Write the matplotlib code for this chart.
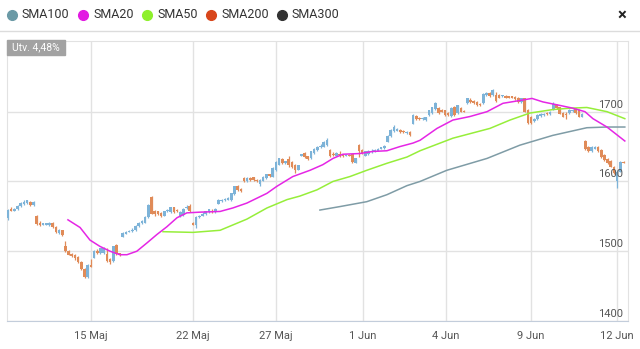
import matplotlib.pyplot as plt
from matplotlib.lines import Line2D
from matplotlib.patches import Rectangle
from matplotlib import transforms

plt.rcParams['font.family'] = ['Roboto', 'DejaVu Sans']

# hourly candles, one entry per bar
opens = [1547, 1561, 1558, 1560, 1565, 1568, 1569, 1571, 1566,
         1551, 1541, 1538, 1538, 1537, 1541, 1535, 1526, 1530,
         1508, 1501, 1496, 1495, 1492, 1485, 1475, 1463, 1480,
         1491, 1501, 1497, 1497, 1496, 1489, 1486, 1509, 1497,
         1521, 1525, 1528, 1529, 1530, 1536, 1540, 1541, 1549, 1577, 1557, 1557,
         1555, 1551, 1557, 1556, 1563, 1559, 1550, 1552, 1562, 1565,
         1541, 1538, 1549, 1551, 1553, 1556, 1558, 1556,
         1568, 1572, 1573, 1574, 1573, 1582, 1593, 1589,
         1605, 1600, 1605, 1606, 1602, 1597, 1601, 1605, 1610,
         1607, 1616, 1624, 1632, 1626, 1632, 1628, 1624, 1617,
         1637, 1641, 1636, 1633, 1641, 1645, 1649, 1650, 1652,
         1645, 1640, 1637, 1640, 1639, 1637, 1638, 1639, 1627,
         1652, 1645, 1637, 1639, 1642, 1643, 1644, 1647, 1648,
         1657, 1665, 1672, 1673, 1674, 1672, 1669, 1671,
         1683, 1694, 1690, 1689, 1688,
         1695, 1698, 1704, 1705, 1703, 1702, 1698, 1694, 1707, 1698, 1705, 1701,
         1712, 1717, 1716, 1714, 1711, 1712, 1724, 1727, 1724, 1724,
         1724, 1722, 1723, 1722, 1722, 1721, 1720, 1714, 1719,
         1703, 1693, 1686, 1689, 1694, 1695, 1698, 1696, 1703, 1710, 1706,
         1698, 1697, 1698, 1701, 1704, 1703, 1693,
         1658, 1650, 1643, 1647, 1650, 1645, 1638, 1632, 1630, 1621, 1600, 1614, 1628]
closes = [1559, 1558, 1560, 1565, 1569, 1570, 1573, 1566, 1571,
          1539, 1538, 1540, 1540, 1541, 1535, 1527, 1531, 1523,
          1500, 1495, 1493, 1490, 1484, 1474, 1463, 1480, 1478,
          1501, 1497, 1504, 1505, 1486, 1484, 1507, 1496, 1494,
          1526, 1528, 1529, 1531, 1536, 1541, 1543, 1549, 1566, 1554, 1553, 1553,
          1551, 1557, 1559, 1563, 1556, 1557, 1556, 1561, 1564, 1557,
          1538, 1549, 1551, 1554, 1557, 1560, 1556, 1560,
          1573, 1573, 1574, 1576, 1583, 1593, 1588, 1586,
          1600, 1605, 1602, 1602, 1600, 1602, 1607, 1610, 1608,
          1619, 1628, 1633, 1626, 1629, 1624, 1620, 1617, 1623,
          1639, 1635, 1632, 1643, 1647, 1650, 1651, 1657, 1659,
          1636, 1638, 1641, 1638, 1636, 1638, 1637, 1628, 1633,
          1643, 1640, 1643, 1644, 1644, 1645, 1647, 1649, 1651,
          1665, 1674, 1678, 1675, 1671, 1671, 1671, 1666,
          1695, 1689, 1689, 1691, 1692,
          1702, 1706, 1712, 1698, 1700, 1695, 1695, 1705, 1695, 1709, 1700, 1700,
          1719, 1714, 1712, 1709, 1709, 1726, 1727, 1722, 1731, 1716,
          1720, 1723, 1720, 1720, 1720, 1718, 1714, 1719, 1700,
          1684, 1684, 1690, 1695, 1697, 1697, 1696, 1700, 1711, 1705, 1697,
          1693, 1695, 1703, 1703, 1698, 1693, 1697,
          1646, 1643, 1650, 1650, 1643, 1635, 1631, 1626, 1621, 1612, 1614, 1628, 1627]
highs = [1561, 1563, 1562, 1566, 1570, 1573, 1574, 1572, 1572,
         1552, 1544, 1541, 1541, 1542, 1542, 1536, 1532, 1531,
         1514, 1502, 1497, 1496, 1493, 1486, 1476, 1481, 1489,
         1502, 1503, 1505, 1506, 1504, 1490, 1508, 1510, 1498,
         1527, 1529, 1531, 1533, 1537, 1542, 1545, 1550, 1567, 1579, 1559, 1558,
         1556, 1558, 1560, 1564, 1564, 1560, 1557, 1562, 1566, 1567,
         1542, 1550, 1552, 1556, 1558, 1561, 1560, 1562,
         1575, 1575, 1576, 1578, 1584, 1594, 1595, 1590,
         1606, 1607, 1606, 1607, 1603, 1603, 1608, 1611, 1611,
         1620, 1629, 1634, 1633, 1630, 1636, 1630, 1625, 1624,
         1640, 1642, 1637, 1644, 1648, 1651, 1653, 1658, 1662,
         1646, 1642, 1642, 1644, 1640, 1639, 1639, 1640, 1634,
         1653, 1646, 1644, 1645, 1646, 1646, 1648, 1650, 1652,
         1666, 1675, 1681, 1676, 1675, 1674, 1672, 1672,
         1697, 1695, 1692, 1692, 1693,
         1703, 1707, 1714, 1706, 1704, 1703, 1699, 1706, 1708, 1710, 1706, 1702,
         1720, 1719, 1717, 1715, 1712, 1727, 1728, 1728, 1732, 1728,
         1725, 1724, 1724, 1723, 1723, 1722, 1721, 1720, 1720,
         1704, 1694, 1691, 1696, 1698, 1698, 1699, 1701, 1714, 1711, 1707,
         1699, 1699, 1704, 1704, 1705, 1704, 1698,
         1660, 1651, 1651, 1651, 1651, 1646, 1639, 1633, 1631, 1622, 1616, 1629, 1629]
lows = [1545, 1557, 1557, 1559, 1564, 1566, 1568, 1565, 1565,
        1538, 1536, 1537, 1537, 1536, 1534, 1526, 1525, 1522,
        1499, 1494, 1492, 1488, 1483, 1473, 1462, 1461, 1477,
        1490, 1496, 1496, 1496, 1485, 1482, 1485, 1495, 1493,
        1520, 1524, 1527, 1528, 1529, 1535, 1539, 1540, 1548, 1553, 1551, 1552,
        1549, 1550, 1556, 1555, 1555, 1556, 1549, 1551, 1561, 1556,
        1537, 1534, 1548, 1550, 1552, 1555, 1555, 1555,
        1567, 1571, 1572, 1573, 1572, 1581, 1587, 1585,
        1599, 1599, 1601, 1601, 1599, 1594, 1600, 1604, 1607,
        1606, 1615, 1623, 1625, 1625, 1620, 1619, 1612, 1616,
        1636, 1634, 1631, 1632, 1640, 1644, 1648, 1649, 1651,
        1635, 1637, 1636, 1635, 1635, 1636, 1636, 1627, 1626,
        1635, 1639, 1636, 1638, 1641, 1642, 1643, 1646, 1647,
        1656, 1664, 1671, 1672, 1670, 1669, 1668, 1665,
        1682, 1688, 1688, 1688, 1687,
        1694, 1697, 1703, 1697, 1699, 1694, 1694, 1693, 1694, 1697, 1699, 1699,
        1711, 1713, 1711, 1708, 1708, 1711, 1723, 1721, 1723, 1714,
        1719, 1721, 1719, 1719, 1719, 1717, 1713, 1713, 1699,
        1683, 1683, 1685, 1688, 1693, 1694, 1695, 1695, 1702, 1704, 1696,
        1692, 1689, 1697, 1700, 1697, 1692, 1692,
        1645, 1642, 1642, 1646, 1642, 1634, 1630, 1625, 1620, 1611, 1590, 1613, 1626]

# moving averages (bar index, value)
sma20_x = [18.8, 22.6, 25.7, 28.8, 32.0, 35.1, 37.3, 40.4, 43.6, 46.7, 49.8, 53.0, 56.1,
           60.2, 66.5, 70.5, 74.9, 81.2, 84.3, 89.3, 94.7, 98.7, 101.9, 105.0, 110.3,
           114.4, 118.8, 122.9, 127.0, 129.2, 134.5, 139.5, 144.8, 150.2, 155.2, 160.5,
           164.3, 167.7, 173.0, 177.1, 180.9, 183.4, 187.8, 193.4]
sma20 = [1545, 1534, 1516, 1507, 1500, 1495, 1495, 1500, 1512, 1524, 1535, 1548, 1555,
         1556, 1557, 1562, 1569, 1583, 1593, 1607, 1616, 1624, 1633, 1639, 1640,
         1643, 1644, 1650, 1655, 1659, 1676, 1688, 1693, 1700, 1712, 1716,
         1719, 1714, 1709, 1705, 1700, 1690, 1678, 1658]
sma50_x = [48.6, 58.0, 66.5, 74.9, 81.2, 87.5, 91.5, 96.9, 101.9, 107.2, 112.5, 118.8,
           125.1, 129.2, 139.5, 151.1, 157.4, 163.6, 170.8, 176.2, 181.5, 187.8, 193.4]
sma50 = [1528, 1527, 1530, 1546, 1562, 1574, 1579, 1588, 1600, 1607, 1616, 1626,
         1635, 1644, 1662, 1676, 1688, 1698, 1703, 1705, 1706, 1700, 1690]
sma100_x = [97.8, 104.1, 112.5, 118.8, 125.1, 129.2, 137.6, 150.2, 160.5, 170.8, 181.5, 187.8, 193.4]
sma100 = [1559, 1564, 1571, 1581, 1594, 1600, 1616, 1633, 1652, 1666, 1677, 1678, 1678]

xtick_pos = [26.0, 58.0, 84.0, 111.3, 137.3, 163.9, 190.9]
xtick_labels = ['15 Maj', '22 Maj', '27 Maj', '1 Jun', '4 Jun', '9 Jun', '12 Jun']
yticks = [1400, 1500, 1600, 1700]

legend_names = ['SMA100', 'SMA20', 'SMA50', 'SMA200', 'SMA300']
legend_colors = ['#6b9aa6', '#e21ae2', '#8ef02c', '#d8461b', '#333333']

BLUE = '#7db3d8'
ORANGE = '#e08b58'

W, H = 640, 349
fig = plt.figure(figsize=(W / 100, H / 100), dpi=100)
ax = fig.add_axes([7 / W, 1 - 321 / H, 621 / W, 280.5 / H])

idx = list(range(len(opens)))
cols = [BLUE if c >= o else ORANGE for o, c in zip(opens, closes)]
bottoms = [min(o, c) for o, c in zip(opens, closes)]
heights = [max(abs(c - o), 1.5) for o, c in zip(opens, closes)]
ax.vlines(idx, lows, highs, colors=cols, lw=0.9, zorder=2)
ax.bar(idx, heights, bottom=bottoms, width=0.82, color=cols, lw=0, zorder=3)

ax.plot(sma100_x, sma100, color='#7f9ca6', lw=1.1, zorder=4)
ax.plot(sma50_x, sma50, color='#96ee3a', lw=1.1, zorder=4)
ax.plot(sma20_x, sma20, color='#e526e5', lw=1.1, zorder=5)

ax.set_xlim(-0.31, 194.4)
ax.set_ylim(1400, 1802)
ax.set_yticks(yticks)
ax.set_xticks(xtick_pos)
ax.set_xticklabels(xtick_labels, fontsize=8, color='#555555')
ax.tick_params(axis='x', length=0, pad=7)
ax.tick_params(axis='y', length=0, labelleft=False)
ax.grid(color='#e2e2e2', lw=1)
ax.set_axisbelow(True)
for s in ['top', 'left', 'right']:
    ax.spines[s].set_color('#e2e2e2')
ax.spines['bottom'].set_color('#c3cddb')

trans = transforms.blended_transform_factory(ax.transAxes, ax.transData)
for v in yticks:
    ax.annotate(str(v), xy=(1, v), xycoords=trans, xytext=(-3.5, 1.5),
                textcoords='offset points', ha='right', va='bottom',
                fontsize=8, color='#555555', zorder=6)

# header with legend and close button
fig.add_artist(Line2D([0, 1], [1 - 31 / H] * 2, color='#dcdcdc', lw=1, transform=fig.transFigure))
lx = [12, 83, 147, 211, 282]
for x, name, c in zip(lx, legend_names, legend_colors):
    fig.add_artist(Line2D([x / W], [1 - 15 / H], marker='o', ms=7, color=c, lw=0,
                          transform=fig.transFigure))
    fig.text((x + 10) / W, 1 - 15 / H, name, fontsize=9, color='#333333', va='center')
fig.text(622 / W, 1 - 15 / H, '×', fontsize=12, fontweight='bold', color='#222222',
         ha='center', va='center')

# change badge
fig.add_artist(Rectangle((7 / W, 1 - 55 / H), 58 / W, 15 / H, color='#a2a2a2',
                         transform=fig.transFigure, zorder=10))
fig.text(36 / W, 1 - 47.5 / H, 'Utv. 4,48%', fontsize=7.5, color='white',
         ha='center', va='center', zorder=11)

fig.savefig('out.png', dpi=100)
